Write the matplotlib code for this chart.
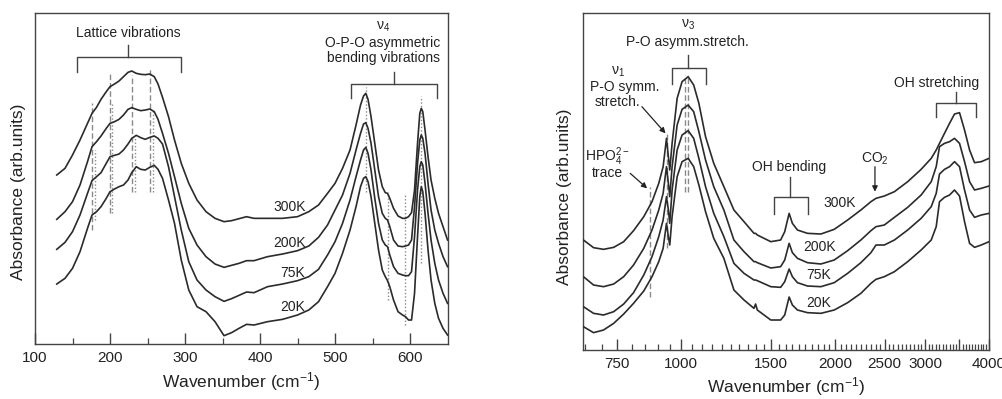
import numpy as np
import matplotlib
matplotlib.use('Agg')
import matplotlib.pyplot as plt
from matplotlib.ticker import FixedLocator, FixedFormatter, NullFormatter

plt.rcParams['font.family'] = ['Liberation Sans', 'DejaVu Sans']
plt.rcParams['mathtext.fontset'] = 'custom'
plt.rcParams['mathtext.rm'] = 'Liberation Sans'
plt.rcParams['mathtext.it'] = 'Liberation Sans:italic'
plt.rcParams['mathtext.bf'] = 'Liberation Sans:bold'

temps = ['300K', '200K', '75K', '20K']

# ---------------- left panel: far IR ----------------
wn_far = [129, 140, 150, 160, 170, 176, 182, 188, 195, 200,
          206, 212, 218, 224, 229, 235, 241, 247, 253, 259,
          264, 270, 278, 286, 295, 305, 316, 328, 340, 352,
          362, 372, 382,
          392, 410, 430, 450, 465, 478, 490, 500, 510, 520,
          528, 534, 538, 541, 544, 548, 553, 558, 563, 567,
          570, 573, 578, 584, 590, 594, 598, 602, 606, 610,
          613, 615, 617, 620, 624, 628, 633, 638, 644, 650]
far_300K = [507, 527, 567, 612, 662, 692, 710, 734, 757, 772,
            780, 789, 802, 815, 819, 812, 809, 808, 810, 802,
            780, 740, 682, 612, 542, 482, 432, 397, 377, 367,
            370, 376, 382,
            377, 377, 377, 382, 397, 417, 452, 482, 527, 582,
            657, 717, 744, 752, 734, 682, 602, 522, 472, 454,
            452, 437, 407, 384, 377, 377, 382, 394, 462, 602,
            692, 707, 697, 642, 562, 492, 437, 392, 352, 312]
far_200K = [374, 397, 427, 477, 547, 592, 607, 624, 647, 662,
            667, 674, 687, 704, 709, 704, 700, 702, 705, 697,
            674, 632, 572, 502, 422, 347, 297, 262, 240, 230,
            236, 242, 250,
            250, 262, 270, 280, 294, 320, 357, 402, 447, 512,
            582, 632, 660, 664, 647, 602, 522, 442, 392, 377,
            372, 352, 312, 294, 292, 294, 297, 312, 412, 542,
            612, 627, 617, 572, 482, 402, 342, 302, 262, 232]
far_75K = [284, 305, 337, 387, 452, 490, 502, 514, 542, 562,
           566, 570, 582, 600, 617, 626, 619, 614, 620, 624,
           617, 600, 532, 442, 342, 247, 192, 162, 142, 128,
           136, 146, 156,
           154, 172, 180, 190, 202, 224, 267, 307, 362, 432,
           502, 552, 582, 590, 572, 522, 437, 362, 312, 297,
           292, 267, 232, 212, 207, 205, 205, 217, 322, 462,
           532, 547, 537, 482, 392, 312, 242, 192, 152, 122]
far_20K = [180, 197, 227, 277, 347, 387, 397, 412, 437, 457,
           465, 472, 477, 492, 514, 532, 524, 522, 530, 536,
           524, 497, 432, 362, 252, 162, 112, 97, 67, 25,
           34, 47, 59,
           57, 67, 74, 87, 102, 127, 172, 212, 272, 342,
           412, 472, 497, 502, 487, 442, 362, 282, 222, 202,
           190, 172, 132, 97, 87, 82, 72, 72, 152, 322,
           442, 472, 457, 392, 282, 192, 122, 77, 47, 27]

far_dashed = [(176, 342, 722), (200, 392, 817), (229, 457, 807), (253, 457, 827)]
far_dotted = [(180, 372, 582), (203, 392, 722), (233, 457, 622), (257, 457, 702),
              (541, 457, 772), (570, 132, 457), (593, 57, 452), (615, 242, 744)]

# ---------------- right panel: mid IR ----------------
wn_mid = [644, 674, 705, 738, 772, 807, 845, 877, 904, 922,
          936, 944, 950, 960, 982, 1004, 1032, 1058, 1083, 1116,
          1158, 1212, 1268, 1327, 1388, 1398, 1409, 1497, 1565, 1594,
          1626, 1650, 1688, 1766, 1876, 1992, 2116, 2246, 2350, 2404,
          2496, 2612, 2773, 2946, 3083, 3153, 3200, 3273, 3348, 3424,
          3502, 3582, 3664, 3747, 3862, 4000]
mid_300K = [330, 307, 302, 308, 325, 358, 400, 445, 500, 550,
            635, 580, 540, 620, 755, 805, 820, 795, 740, 640,
            560, 490, 420, 385, 350, 350, 345, 325, 330, 355,
            410, 380, 360, 350, 348, 362, 390, 420, 445, 455,
            462, 475, 505, 542, 575, 600, 620, 650, 680, 708,
            712, 660, 600, 562, 565, 575]
mid_200K = [220, 195, 190, 198, 220, 255, 305, 360, 420, 470,
            550, 500, 460, 550, 675, 722, 735, 715, 655, 570,
            490, 420, 330, 295, 265, 265, 262, 246, 250, 270,
            320, 292, 275, 262, 258, 270, 298, 330, 358, 370,
            375, 398, 428, 465, 505, 550, 610, 620, 625, 635,
            620, 565, 505, 480, 485, 492]
mid_75K = [130, 110, 105, 115, 138, 172, 225, 280, 340, 390,
           460, 420, 380, 480, 600, 645, 658, 635, 575, 490,
           410, 340, 260, 230, 210, 210, 208, 190, 188, 205,
           243, 220, 202, 192, 190, 202, 230, 262, 292, 315,
           315, 330, 360, 395, 430, 470, 528, 542, 550, 565,
           550, 480, 420, 398, 405, 410]
mid_20K = [70, 52, 60, 80, 108, 140, 177, 220, 265, 305,
           380, 340, 315, 400, 520, 565, 575, 550, 495, 415,
           335, 275, 180, 150, 125, 138, 120, 90, 90, 105,
           159, 135, 120, 112, 110, 120, 142, 170, 200, 212,
           220, 235, 265, 300, 330, 370, 445, 458, 465, 480,
           462, 385, 320, 308, 315, 325]

mid_dashed = [(871, 160, 490), (940, 305, 655), (1016, 475, 825), (1033, 475, 825)]

mid_major = [750, 1000, 1500, 2000, 2500, 3000, 3500, 4000]
mid_major_labels = ['750', '1000', '1500', '2000', '2500', '3000', '', '4000']

LINE = '#2b2b2b'
GRAY = '#8a8a8a'
TXT = '#222222'

fig = plt.figure(figsize=(10.03, 3.99), dpi=100)
axL = fig.add_axes([0.0349, 0.1378, 0.4113, 0.8296])
axR = fig.add_axes([0.581, 0.1228, 0.4051, 0.8454])

for ax in (axL, axR):
    for sp in ax.spines.values():
        sp.set_color('#444444')
        sp.set_linewidth(1.0)
    ax.set_yticks([])
    ax.tick_params(axis='x', which='both', direction='in', color='#444444',
                   labelsize=11, pad=5, labelcolor=TXT)
    ax.tick_params(axis='x', which='major', length=8, width=1.0)
    ax.tick_params(axis='x', which='minor', length=4.5, width=0.9)

# ---- left drawing ----
for vals in (far_300K, far_200K, far_75K, far_20K):
    axL.plot(wn_far, vals, color=LINE, lw=1.2, solid_joinstyle='round', zorder=3)
for x, y0, y1 in far_dashed:
    axL.plot([x, x], [y0, y1], color=GRAY, lw=1.0, ls=(0, (4, 2)), zorder=2)
for x, y0, y1 in far_dotted:
    axL.plot([x, x], [y0, y1], color=GRAY, lw=1.0, ls=(0, (1, 1.5)), zorder=2)

axL.set_xlim(100, 650)
axL.set_ylim(0, 993)
axL.xaxis.set_major_locator(FixedLocator([100, 200, 300, 400, 500, 600]))
axL.xaxis.set_minor_locator(FixedLocator([150, 250, 350, 450, 550]))
axL.set_xlabel('Wavenumber (cm$^{-1}$)', fontsize=12.5, color=TXT, labelpad=4)
axL.set_ylabel('Absorbance (arb.units)', fontsize=12.5, color=TXT)
axL.yaxis.set_label_coords(-0.022, 0.46)

def bracket(ax, x0, x1, y, drop, xs, stem):
    ax.plot([x0, x0, x1, x1], [y - drop, y, y, y - drop], color='#444444', lw=1.0, zorder=4)
    ax.plot([xs, xs], [y, y + stem], color='#444444', lw=1.0, zorder=4)

bracket(axL, 156, 295, 862, 45, 224, 35)
axL.text(224, 934, 'Lattice vibrations', ha='center', va='center', fontsize=10, color=TXT)
bracket(axL, 521, 636, 780, 43, 579, 37)
axL.text(564, 952, r'$\mathrm{\nu}_4$', ha='center', va='center', fontsize=10, color=TXT)
axL.text(564, 902, 'O-P-O asymmetric', ha='center', va='center', fontsize=10, color=TXT)
axL.text(564, 857, 'bending vibrations', ha='center', va='center', fontsize=10, color=TXT)
for t, x, y in zip(temps, [440, 440, 444, 444], [412, 302, 212, 112]):
    axL.text(x, y, t, ha='center', va='center', fontsize=10, color=TXT)

# ---- right drawing ----
for vals in (mid_300K, mid_200K, mid_75K, mid_20K):
    axR.plot(wn_mid, vals, color=LINE, lw=1.2, solid_joinstyle='round', zorder=3)
for x, y0, y1 in mid_dashed:
    axR.plot([x, x], [y0, y1], color=GRAY, lw=1.0, ls=(0, (4, 2)), zorder=2)

axR.set_xscale('log')
axR.set_xlim(642, 4000)
axR.set_ylim(0, 1012)
axR.xaxis.set_major_locator(FixedLocator(mid_major))
axR.xaxis.set_major_formatter(FixedFormatter(mid_major_labels))
axR.xaxis.set_minor_locator(FixedLocator([v for v in np.arange(650, 4001, 50) if v not in mid_major]))
axR.xaxis.set_minor_formatter(NullFormatter())
axR.set_xlabel('Wavenumber (cm$^{-1}$)', fontsize=12.5, color=TXT, labelpad=3)
axR.set_ylabel('Absorbance (arb.units)', fontsize=12.5, color=TXT)
axR.yaxis.set_label_coords(-0.026, 0.455)

bracket(axR, 959, 1116, 845, 47, 1030, 40)
axR.text(1030, 975, r'$\mathrm{\nu}_3$', ha='center', va='center', fontsize=10, color=TXT)
axR.text(1030, 923, 'P-O asymm.stretch.', ha='center', va='center', fontsize=10, color=TXT)
axR.text(752, 835, r'$\mathrm{\nu}_1$', ha='center', va='center', fontsize=10, color=TXT)
axR.text(777, 788, 'P-O symm.', ha='center', va='center', fontsize=10, color=TXT)
axR.text(750, 745, 'stretch.', ha='center', va='center', fontsize=10, color=TXT)
arrow = dict(arrowstyle='-|>', color='#222222', lw=0.9, mutation_scale=8, shrinkA=0, shrinkB=0)
axR.annotate('', xy=(932, 650), xytext=(838, 730), arrowprops=arrow)
axR.text(716, 580, r'HPO$_4^{2-}$', ha='center', va='center', fontsize=10, color=TXT)
axR.text(716, 530, 'trace', ha='center', va='center', fontsize=10, color=TXT)
axR.annotate('', xy=(858, 485), xytext=(795, 530), arrowprops=arrow)
axR.text(1626, 548, 'OH bending', ha='center', va='center', fontsize=10, color=TXT)
bracket(axR, 1519, 1771, 460, 52, 1634, 60)
axR.text(2393, 575, r'CO$_2$', ha='center', va='center', fontsize=10, color=TXT)
axR.annotate('', xy=(2393, 475), xytext=(2393, 550), arrowprops=arrow)
axR.text(3162, 800, 'OH stretching', ha='center', va='center', fontsize=10, color=TXT)
bracket(axR, 3153, 3776, 740, 40, 3450, 35)
for t, x, y in zip(temps, [2037, 1861, 1861, 1861], [440, 310, 225, 142]):
    axR.text(x, y, t, ha='center', va='center', fontsize=10, color=TXT)

fig.savefig('out.png', dpi=100)
